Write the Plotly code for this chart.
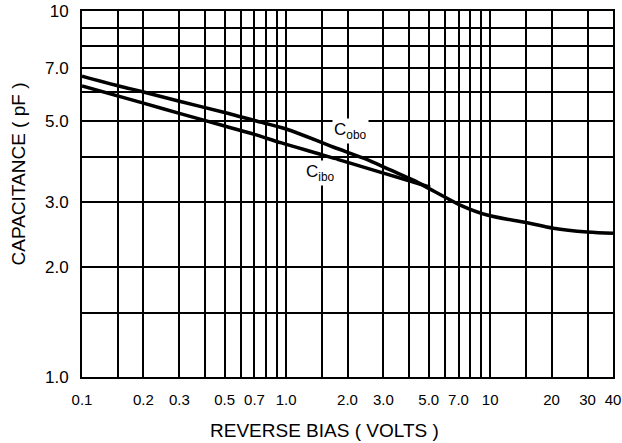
import plotly.graph_objects as go

# Data
cobo_v = [0.1, 0.15, 0.2, 0.3, 0.5, 0.7, 1.0, 1.7, 2.4, 3.24, 4.2, 5.08, 6.15, 7.13, 9.67, 15.2, 20.4, 29.9, 40]
cobo_c = [6.64, 6.25, 6.01, 5.67, 5.28, 5.02, 4.76, 4.25, 3.96, 3.68, 3.45, 3.26, 3.08, 2.95, 2.77, 2.64, 2.55, 2.49, 2.47]
cibo_v = [0.1, 0.2, 0.3, 0.5, 0.7, 0.95, 1.52, 2.89, 4.2, 5.08]
cibo_c = [6.24, 5.60, 5.25, 4.85, 4.60, 4.36, 4.04, 3.63, 3.41, 3.30]

x_grid = [0.1, 0.15, 0.2, 0.3, 0.4, 0.5, 0.6, 0.7, 0.8, 0.9, 1.0, 1.5, 2, 3, 4, 5, 6, 7, 8, 9, 10, 15, 20, 30, 40]
x_text = ["0.1", "", "0.2", "0.3", "", "0.5", "", "0.7", "", "", "1.0", "", "2.0", "3.0", "", "5.0", "", "7.0", "", "", "10", "", "20", "30", "40"]
y_grid = [1, 1.5, 2, 3, 4, 5, 6, 7, 8, 9, 10]
y_text = ["1.0", "", "2.0", "3.0", "", "5.0", "", "7.0", "", "", "10"]

fig = go.Figure()
fig.add_trace(go.Scatter(x=cobo_v, y=cobo_c, mode="lines", line=dict(color="black", width=3.5, shape="spline"), showlegend=False))
fig.add_trace(go.Scatter(x=cibo_v, y=cibo_c, mode="lines", line=dict(color="black", width=3.5, shape="spline"), showlegend=False))

font = dict(family="Liberation Sans, Arial, sans-serif", color="black")

W, H = 622, 443
ml, mr, mt, mb = 82, 9, 11, 66
pw, ph = W - ml - mr, H - mt - mb

fig.add_annotation(x=0.314, y=0.672, xref="x", yref="y", text="C<sub>obo</sub>", showarrow=False,
                   bgcolor="white", borderpad=1, font=dict(size=17, **font))
fig.add_annotation(x=0.167, y=0.557, xref="x", yref="y", text="C<sub>ibo</sub>", showarrow=False,
                   bgcolor="white", borderpad=1, font=dict(size=17, **font))
fig.add_annotation(x=(324 - ml) / pw, y=(H - mb - 430) / ph, xref="paper", yref="paper",
                   xanchor="center", yanchor="middle",
                   text="REVERSE BIAS ( VOLTS )", showarrow=False, font=dict(size=19, **font))
fig.add_annotation(x=(17.5 - ml) / pw, y=(H - mb - 174) / ph, xref="paper", yref="paper",
                   xanchor="center", yanchor="middle",
                   text="CAPACITANCE ( pF )", textangle=-90, showarrow=False, font=dict(size=19, **font))

axis_common = dict(type="log", showgrid=True, gridcolor="black", gridwidth=2, zeroline=False,
                   showline=True, linecolor="black", linewidth=2, mirror=True, ticks="",
                   automargin=False)
fig.update_xaxes(range=[-1, 1.60206], tickvals=x_grid, ticktext=x_text, ticklabelstandoff=8,
                 tickfont=dict(size=15, **font), **axis_common)
fig.update_yaxes(range=[0, 1], tickvals=y_grid, ticktext=y_text, ticklabelstandoff=8,
                 tickfont=dict(size=17, **font), **axis_common)

fig.update_layout(width=W, height=H, margin=dict(l=ml, r=mr, t=mt, b=mb, autoexpand=False),
                  plot_bgcolor="white", paper_bgcolor="white", font=font)
fig.write_html("out.html", config={"displayModeBar": False},
               post_script="document.body.style.margin='0';document.body.style.overflow='hidden';")
